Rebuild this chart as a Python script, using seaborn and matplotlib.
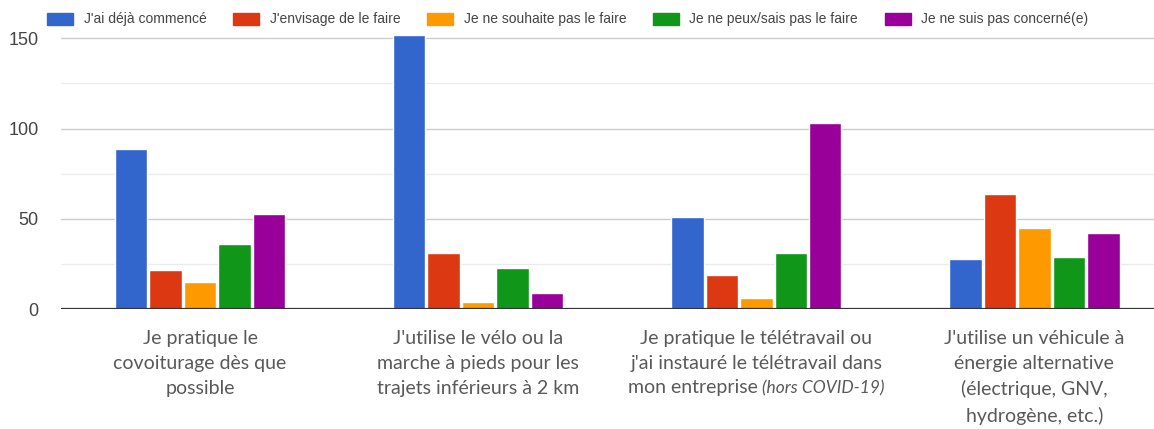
import pandas as pd
import numpy as np
import matplotlib.pyplot as plt
import seaborn as sns
from matplotlib.ticker import MultipleLocator


categories = [
    "Je pratique le\ncovoiturage dès que\npossible",
    "J'utilise le vélo ou la\nmarche à pieds pour les\ntrajets inférieurs à 2 km",
    "Je pratique le télétravail ou\nj'ai instauré le télétravail dans",
    "J'utilise un véhicule à\nénergie alternative\n(électrique, GNV,\nhydrogène, etc.)",
]
# last line of the 3rd label, with an italic part
ligne3_normal = "mon entreprise "
ligne3_italique = "(hors COVID-19)"
reponses = [
    "J'ai déjà commencé",
    "J'envisage de le faire",
    "Je ne souhaite pas le faire",
    "Je ne peux/sais pas le faire",
    "Je ne suis pas concerné(e)",
]
deja_commence = [89, 152, 51, 28]
envisage = [22, 31, 19, 64]
ne_souhaite_pas = [15, 4, 6, 45]
ne_peux_pas = [36, 23, 31, 29]
pas_concerne = [53, 9, 103, 42]
couleurs = ["#3366cc", "#dc3912", "#ff9900", "#109618", "#990099"]

series = [deja_commence, envisage, ne_souhaite_pas, ne_peux_pas, pas_concerne]
rows = []
for rep, vals in zip(reponses, series):
    for cat, v in zip(categories, vals):
        rows.append({"categorie": cat, "reponse": rep, "valeur": v})
df = pd.DataFrame(rows)

sns.set_style("white")
plt.rcParams["font.family"] = ["Liberation Sans", "DejaVu Sans"]

W, H = 1154, 429
fig = plt.figure(figsize=(W / 100, H / 100), dpi=100)
ax = fig.add_axes([61 / W, 1 - 309.3 / H, (W - 61) / W, 274.6 / H])

sns.barplot(data=df, x="categorie", y="valeur", hue="reponse", palette=couleurs,
            width=0.62, gap=0.06, ax=ax, legend=False, saturation=1)

ax.set_ylim(0, 152)
ax.set_xlim(-0.5, 3.43)
ax.yaxis.set_major_locator(MultipleLocator(50))
ax.yaxis.set_minor_locator(MultipleLocator(25))
ax.grid(axis="y", which="major", color="#cccccc", lw=1)
ax.grid(axis="y", which="minor", color="#ebebeb", lw=1)
ax.set_axisbelow(True)
ax.axhline(0, color="#333333", lw=1.6, zorder=5)
for s in ax.spines.values():
    s.set_visible(False)

ax.set_xlabel("")
ax.set_ylabel("")
ax.tick_params(axis="y", which="both", length=0, pad=16, labelsize=13, labelcolor="#444444")
ax.tick_params(axis="x", length=0, pad=15)
xfont = dict(family="Lato", size=14, color="#595959")
for lab in ax.get_xticklabels():
    lab.set_fontfamily(xfont["family"])
    lab.set_fontsize(xfont["size"])
    lab.set_color(xfont["color"])
    lab.set_linespacing(1.55)
    lab.set_va("top")

handles = [plt.Rectangle((0, 0), 1, 1, facecolor=c, edgecolor=c) for c in couleurs]
fig.legend(handles, reponses, loc="center", bbox_to_anchor=(0.492, 0.955), ncol=5,
           frameon=False, fontsize=10, handlelength=1.9, handleheight=0.95,
           handletextpad=0.75, columnspacing=1.9, labelcolor="#444444")

# third line of the 3rd category label: normal + italic, centred under the tick
fig.canvas.draw()
r = fig.canvas.get_renderer()
bb3 = ax.get_xticklabels()[2].get_window_extent(r)
t1 = fig.text(0, 0, ligne3_normal, ha="left", va="top", **xfont)
t2 = fig.text(0, 0, ligne3_italique, ha="left", va="top", style="italic",
              family="Lato", size=12.5, color="#595959")
w1 = t1.get_window_extent(r).width
w2 = t2.get_window_extent(r).width
cx = ax.transData.transform((2, 0))[0]
ytop = bb3.y0 - 7
x0 = cx - (w1 + w2) / 2
t1.set_position((x0 / W, ytop / H))
t2.set_position(((x0 + w1) / W, (ytop - 2) / H))

fig.savefig("out.png", dpi=100)
